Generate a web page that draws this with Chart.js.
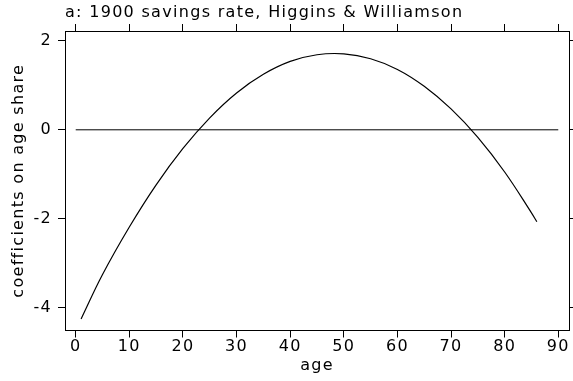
<!DOCTYPE html>
<html>
<head>
<meta charset="utf-8">
<script src="https://cdn.jsdelivr.net/npm/chart.js@4"></script>
<style>
  html, body { margin: 0; padding: 0; background: #fff; }
  canvas { display: block; }
</style>
</head>
<body>
<canvas id="chart" width="573" height="381"></canvas>
<script>
// Estimated age-share coefficients by age
const ages  = [1, 5, 10, 15, 20, 25, 30, 35, 40, 45, 50, 55, 60, 65, 70, 75, 80, 85, 86];
const coefs = [-4.26, -3.26, -2.19, -1.24, -0.42, 0.27, 0.83, 1.25, 1.54, 1.69,
               1.71, 1.60, 1.36, 0.98, 0.47, -0.17, -0.95, -1.87, -2.07];

// Reference line at zero
const zeroAges   = [0, 90];
const zeroValues = [0, 0];

// Tick labels
const xTicks = [0, 10, 20, 30, 40, 50, 60, 70, 80, 90];
const yTicks = [-4, -2, 0, 2];

const titleText = 'a: 1900 savings rate, Higgins & Williamson';
const xTitle = 'age';
const yTitle = 'coefficients on age share';

const FONT = { family: "'DejaVu Sans', sans-serif", size: 16, weight: 'normal', lineHeight: 1.2 };
const INK = '#000';
const SPACING = '1.3px';

// Slightly wider lettering for all chart text
const letterSpacing = {
  id: 'letterSpacing',
  beforeLayout(chart) { chart.ctx.letterSpacing = SPACING; },
  beforeDraw(chart) { chart.ctx.letterSpacing = SPACING; }
};

const useTicks = values => scale => { scale.ticks = values.map(v => ({ value: v })); };

const gridOpts = { display: true, drawOnChartArea: false, drawTicks: true, tickLength: 7, color: INK, lineWidth: 1 };
const borderOpts = { display: true, color: INK, width: 1 };

const xRange = { min: -2, max: 92 };
const yRange = { min: -4.52, max: 2.225 };

new Chart(document.getElementById('chart'), {
  type: 'line',
  data: {
    datasets: [
      {
        data: ages.map((a, i) => ({ x: a, y: coefs[i] })),
        borderColor: INK,
        borderWidth: 1.2,
        pointRadius: 0,
        tension: 0.4,
        fill: false
      },
      {
        data: zeroAges.map((a, i) => ({ x: a, y: zeroValues[i] })),
        borderColor: INK,
        borderWidth: 1,
        pointRadius: 0,
        fill: false
      }
    ]
  },
  options: {
    responsive: false,
    animation: false,
    devicePixelRatio: 1,
    layout: { padding: 0 },
    plugins: {
      legend: { display: false },
      tooltip: { enabled: false },
      title: {
        display: true,
        text: titleText,
        align: 'start',
        fullSize: false,
        color: INK,
        font: FONT,
        padding: { top: 3, bottom: 0 }
      }
    },
    scales: {
      x: {
        type: 'linear', position: 'bottom', ...xRange,
        afterBuildTicks: useTicks(xTicks),
        afterFit: s => { s.height = 50.5; },
        grid: gridOpts, border: borderOpts,
        ticks: { font: FONT, color: INK, padding: 0, maxRotation: 0, autoSkip: false },
        title: { display: true, text: xTitle, font: FONT, color: INK, padding: { top: 0, bottom: 6 } }
      },
      x2: {
        type: 'linear', position: 'top', ...xRange,
        afterBuildTicks: useTicks(xTicks),
        afterFit: s => { s.height = 8.8; },
        grid: gridOpts, border: borderOpts,
        ticks: { display: false }
      },
      y: {
        type: 'linear', position: 'left', ...yRange,
        afterBuildTicks: useTicks(yTicks),
        afterFit: s => { s.width = 65; },
        grid: gridOpts, border: borderOpts,
        ticks: { font: FONT, color: INK, padding: 6 },
        title: { display: true, text: yTitle, font: FONT, color: INK, padding: { top: 9, bottom: 0 } }
      },
      y2: {
        type: 'linear', position: 'right', ...yRange,
        afterBuildTicks: useTicks(yTicks),
        afterFit: s => { s.width = 4; },
        grid: gridOpts, border: borderOpts,
        ticks: { display: false }
      }
    }
  },
  plugins: [letterSpacing]
});
</script>
</body>
</html>
